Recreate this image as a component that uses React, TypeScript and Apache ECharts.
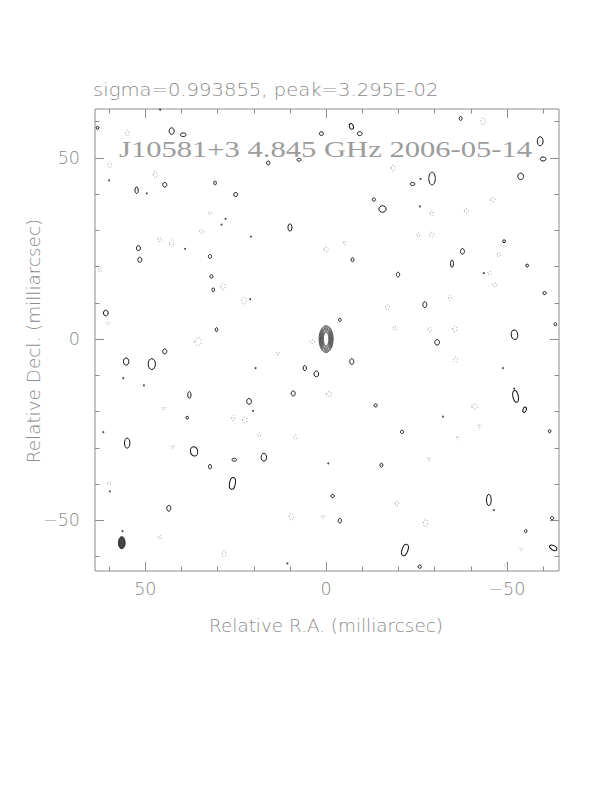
import React, { useEffect, useRef } from "react";
import * as echarts from "echarts";

// Axis extents (milliarcsec); R.A. increases to the left
const raMin = -64.4;
const raMax = 63.9;
const decMin = -64;
const decMax = 63.5;

const majorTicks = [50, 0, -50];
const minorTicks = [60, 40, 30, 20, 10, -10, -20, -30, -40, -60];
const tickLabels = [50, 0, -50];

const titleText = "J10581+3 4.845 GHz 2006-05-14";
const statsText = "sigma=0.993855, peak=3.295E-02";
const xName = "Relative R.A. (milliarcsec)";
const yName = "Relative Decl. (milliarcsec)";

// positive contours: [ra, dec, semiRa, semiDec, rotationDeg]
const positiveContours: number[][] = [
  [63.2, 58.3, 0.4, 0.4, 0],
  [42.7, 57.4, 0.7, 0.9, 0],
  [39.5, 56.4, 0.8, 0.5, 0],
  [1.3, 56.7, 0.55, 0.55, 0],
  [-7.0, 58.7, 0.55, 0.8, 20],
  [-9.3, 56.7, 0.65, 0.55, 0],
  [-37.2, 60.9, 0.4, 0.55, 0],
  [-59.2, 54.6, 0.8, 1.25, 0],
  [-60.0, 49.7, 0.8, 0.55, 0],
  [7.5, 49.5, 0.55, 0.4, 0],
  [16.0, 48.6, 0.45, 0.55, 0],
  [-29.3, 44.3, 0.9, 1.75, 0],
  [-23.9, 42.8, 0.65, 0.4, 0],
  [-53.8, 44.9, 0.8, 0.9, 0],
  [52.4, 41.1, 0.45, 0.9, 0],
  [44.6, 42.6, 0.55, 0.65, 0],
  [30.7, 43.1, 0.35, 0.55, 0],
  [25.0, 39.9, 0.55, 0.55, 0],
  [-13.2, 38.5, 0.45, 0.45, 0],
  [-15.6, 35.9, 1.0, 0.9, 0],
  [10.0, 30.8, 0.55, 1.0, 0],
  [51.9, 25.1, 0.55, 0.7, 0],
  [51.5, 21.9, 0.55, 0.7, 0],
  [32.1, 22.8, 0.45, 0.55, 0],
  [-7.3, 21.9, 0.4, 0.55, 0],
  [-37.7, 24.2, 0.55, 0.75, 0],
  [-49.2, 27.0, 0.4, 0.4, 0],
  [-34.8, 20.8, 0.4, 1.0, 0],
  [-55.6, 20.3, 0.4, 0.4, 0],
  [-19.9, 17.8, 0.45, 0.65, 0],
  [31.7, 17.3, 0.45, 0.45, 0],
  [31.2, 13.6, 0.35, 0.55, 0],
  [-60.4, 12.7, 0.45, 0.45, 0],
  [-27.3, 9.5, 0.55, 0.8, 0],
  [60.9, 7.2, 0.65, 0.8, 0],
  [-3.8, 5.3, 0.35, 0.45, 0],
  [30.3, 2.6, 0.35, 0.55, 0],
  [-63.4, 4.1, 0.35, 0.45, 0],
  [-52.1, 1.2, 0.9, 1.3, 10],
  [-30.7, -0.9, 0.65, 0.75, 0],
  [44.6, -3.4, 0.55, 0.7, 0],
  [55.3, -6.2, 0.75, 1.0, 0],
  [48.2, -6.9, 1.0, 1.5, 0],
  [-7.1, -6.2, 0.55, 0.8, 0],
  [5.9, -8.0, 0.45, 0.7, 0],
  [2.7, -9.6, 0.65, 0.8, 0],
  [37.8, -15.4, 0.45, 0.9, 0],
  [9.1, -15.0, 0.55, 0.7, 0],
  [21.3, -17.2, 0.65, 0.8, 0],
  [-13.7, -18.3, 0.45, 0.45, 0],
  [-52.4, -15.8, 0.75, 1.65, 10],
  [-54.9, -19.5, 0.45, 0.75, -20],
  [38.4, -21.7, 0.35, 0.4, 0],
  [-21.0, -25.6, 0.45, 0.45, 0],
  [-61.8, -25.4, 0.35, 0.45, 0],
  [55.0, -28.7, 0.75, 1.4, 0],
  [36.5, -31.0, 1.0, 1.3, 10],
  [17.2, -32.6, 0.75, 1.1, 0],
  [25.4, -33.3, 0.65, 0.4, 0],
  [32.1, -35.2, 0.4, 0.65, 0],
  [-15.3, -34.8, 0.4, 0.55, 0],
  [25.9, -39.8, 0.8, 1.65, -10],
  [-1.8, -43.3, 0.45, 0.45, 0],
  [43.5, -46.7, 0.55, 0.8, 0],
  [-45.0, -44.4, 0.65, 1.55, 0],
  [-3.8, -50.1, 0.45, 0.65, 0],
  [-62.5, -49.4, 0.45, 0.45, 0],
  [-55.2, -53.0, 0.35, 0.45, 0],
  [-21.8, -58.2, 0.8, 1.65, -20],
  [-62.8, -57.6, 1.1, 0.6, -30],
  [-25.9, -62.8, 0.45, 0.45, 0],
];

// negative (dotted) contours: [ra, dec, semiRa, semiDec]
const negativeContours: number[][] = [
  [55.0, 56.9, 0.5, 0.8],
  [59.8, 48.1, 0.5, 0.8],
  [47.3, 45.4, 0.5, 0.9],
  [-43.4, 60.1, 0.6, 1.0],
  [-18.5, 47.2, 0.5, 0.9],
  [-46.1, 38.5, 0.6, 0.6],
  [-38.8, 35.4, 0.6, 0.6],
  [-29.2, 34.8, 0.4, 0.8],
  [-29.2, 28.8, 0.6, 0.7],
  [-25.5, 28.8, 0.4, 0.6],
  [34.4, 29.7, 0.6, 0.5],
  [32.1, 34.8, 0.4, 0.4],
  [42.7, 26.5, 0.6, 0.9],
  [46.0, 27.5, 0.5, 0.6],
  [0.0, 24.7, 0.6, 0.6],
  [-5.1, 26.5, 0.3, 0.5],
  [-47.8, 23.3, 0.4, 0.6],
  [-45.2, 18.2, 0.5, 0.5],
  [-46.6, 15.0, 0.6, 0.5],
  [28.5, 14.5, 0.6, 0.9],
  [22.7, 10.6, 0.6, 1.0],
  [-34.2, 11.3, 0.4, 0.7],
  [-17.0, 8.8, 0.5, 0.8],
  [-19.0, 3.0, 0.5, 0.5],
  [-28.7, 2.6, 0.5, 0.6],
  [-35.6, 2.8, 0.6, 0.8],
  [35.4, -0.7, 0.9, 1.1],
  [3.8, -0.7, 0.6, 0.5],
  [13.3, -3.9, 0.4, 0.4],
  [-35.8, -5.7, 0.6, 0.7],
  [-0.8, -15.2, 0.7, 0.7],
  [-41.1, -18.6, 0.8, 0.7],
  [-42.3, -24.0, 0.3, 0.5],
  [25.7, -21.8, 0.4, 0.7],
  [22.5, -22.3, 0.6, 0.8],
  [44.8, -19.1, 0.4, 0.4],
  [18.5, -26.4, 0.4, 0.6],
  [8.5, -27.1, 0.4, 0.6],
  [42.3, -29.7, 0.4, 0.4],
  [-36.3, -27.3, 0.3, 0.5],
  [-28.4, -33.1, 0.3, 0.5],
  [59.9, -39.8, 0.5, 0.4],
  [-19.6, -45.3, 0.5, 0.7],
  [9.6, -49.0, 0.6, 1.0],
  [0.8, -49.0, 0.4, 0.4],
  [-27.5, -50.8, 0.6, 1.0],
  [45.9, -54.7, 0.4, 0.6],
  [28.2, -59.3, 0.5, 0.8],
  [-49.8, -62.3, 0.4, 0.6],
  [-54.0, -58.0, 0.4, 0.4],
  [62.5, 19.1, 0.4, 0.6],
  [60.2, 4.4, 0.4, 0.4],
];

// single-pixel noise peaks: [ra, dec]
const noiseDots: number[][] = [
  [45.9, 63.3], [60.0, 43.8], [39.0, 24.9], [28.9, 31.6], [27.8, 33.2],
  [20.8, 28.3], [50.4, -12.8], [56.1, -10.8], [61.6, -25.7], [20.2, -19.8],
  [19.5, -8.0], [-48.9, -8.0], [-32.3, -21.4], [-43.6, 18.2], [-0.6, -34.3],
  [-26.1, 44.2], [-25.9, 36.6], [-46.4, -47.2], [10.7, -61.9], [56.3, -53.0],
  [-52.0, -13.7], [49.6, 40.2], [21.0, 11.0], [59.8, -42.0],
];

// core component: concentric contour levels
const coreCenter = [0, 0];
const coreSemiRa = [1.95, 1.75, 1.55, 1.35, 1.15, 0.95, 0.75];
const coreSemiDec = [3.7, 3.4, 3.1, 2.8, 2.5, 2.15, 1.85];

// restoring beam: [ra, dec, semiRa, semiDec]
const beam = [56.5, -56.2, 0.92, 1.66];

const GRAY = "#8c8c8c";
const TEXT_GRAY = "#8a8a8a";
const SANS = "DejaVu Sans";

function ellipseRenderer(style: any) {
  return (params: any, api: any) => {
    const c = api.coord([api.value(0), api.value(1)]);
    const s = api.size([api.value(2), api.value(3)]);
    const rot = api.value(4) || 0;
    return {
      type: "ellipse",
      x: c[0],
      y: c[1],
      rotation: (rot * Math.PI) / 180,
      shape: { cx: 0, cy: 0, rx: s[0], ry: s[1] },
      style,
    };
  };
}

const fmt = (v: number) => (v < 0 ? "\u2212" + Math.abs(v) : String(v));

function makeXAxis(position: string, values: number[], len: number, labels: boolean) {
  return {
    type: "value",
    position,
    min: raMin,
    max: raMax,
    inverse: true,
    axisLine: { show: false, onZero: false },
    splitLine: { show: false },
    axisTick: {
      show: true,
      inside: true,
      length: len,
      customValues: values,
      lineStyle: { color: GRAY, width: 1 },
    },
    axisLabel: labels
      ? {
          show: true,
          customValues: tickLabels,
          margin: 9,
          color: TEXT_GRAY,
          fontSize: 17.5,
          fontWeight: 200,
          fontFamily: SANS,
          formatter: fmt,
        }
      : { show: false },
  };
}

function makeYAxis(position: string, values: number[], len: number, labels: boolean) {
  return {
    type: "value",
    position,
    min: decMin,
    max: decMax,
    axisLine: { show: false, onZero: false },
    splitLine: { show: false },
    axisTick: {
      show: true,
      inside: true,
      length: len,
      customValues: values,
      lineStyle: { color: GRAY, width: 1 },
    },
    axisLabel: labels
      ? {
          show: true,
          customValues: tickLabels,
          margin: 15,
          color: TEXT_GRAY,
          fontSize: 17.5,
          fontWeight: 200,
          fontFamily: SANS,
          formatter: fmt,
        }
      : { show: false },
  };
}

export default function App() {
  const ref = useRef<HTMLDivElement>(null);
  useEffect(() => {
    if (!ref.current) return;
    const chart = echarts.init(ref.current, null, { renderer: "svg" });
    const pad = (d: number[]) => [d[0], d[1], d[2], d[3], d[4] ?? 0];
    chart.setOption({
      animation: false,
      backgroundColor: "#ffffff",
      grid: {
        left: 95,
        top: 109,
        width: 464,
        height: 462,
        show: true,
        borderColor: GRAY,
        borderWidth: 1,
        backgroundColor: "transparent",
      },
      xAxis: [
        makeXAxis("bottom", majorTicks, 9, true),
        makeXAxis("bottom", minorTicks, 4.5, false),
        makeXAxis("top", majorTicks, 9, false),
        makeXAxis("top", minorTicks, 4.5, false),
      ],
      yAxis: [
        makeYAxis("left", majorTicks, 9, true),
        makeYAxis("left", minorTicks, 4.5, false),
        makeYAxis("right", majorTicks, 9, false),
        makeYAxis("right", minorTicks, 4.5, false),
      ],
      graphic: [
        {
          type: "text",
          x: 93,
          y: 89.5,
          scaleX: 1.12,
          style: {
            text: statsText,
            fill: TEXT_GRAY,
            fontSize: 17.5,
            fontWeight: 200,
            fontFamily: SANS,
            align: "left",
            verticalAlign: "middle",
          },
        },
        {
          type: "text",
          x: 119,
          y: 149.5,
          scaleX: 1.36,
          z: 10,
          style: {
            text: titleText,
            fill: "#9c9c9c",
            fontSize: 22.5,
            fontFamily: "Liberation Serif",
            align: "left",
            verticalAlign: "middle",
          },
        },
        {
          type: "text",
          x: 326,
          y: 626,
          scaleX: 1.05,
          style: {
            text: xName,
            fill: TEXT_GRAY,
            fontSize: 17.5,
            fontWeight: 200,
            fontFamily: SANS,
            align: "center",
            verticalAlign: "middle",
          },
        },
        {
          type: "text",
          x: 33.5,
          y: 341,
          rotation: Math.PI / 2,
          scaleX: 1.05,
          style: {
            text: yName,
            fill: TEXT_GRAY,
            fontSize: 17.5,
            fontWeight: 200,
            fontFamily: SANS,
            align: "center",
            verticalAlign: "middle",
          },
        },
      ],
      series: [
        {
          type: "custom",
          name: "negative",
          coordinateSystem: "cartesian2d",
          xAxisIndex: 0,
          yAxisIndex: 0,
          clip: true,
          renderItem: ellipseRenderer({
            fill: "none",
            stroke: "#9a9a9a",
            lineWidth: 1,
            lineDash: [1, 2],
          }),
          data: negativeContours.map(pad),
        },
        {
          type: "custom",
          name: "positive",
          coordinateSystem: "cartesian2d",
          xAxisIndex: 0,
          yAxisIndex: 0,
          clip: true,
          renderItem: ellipseRenderer({ fill: "none", stroke: "#111", lineWidth: 1 }),
          data: positiveContours.map(pad),
        },
        {
          type: "custom",
          name: "core",
          coordinateSystem: "cartesian2d",
          xAxisIndex: 0,
          yAxisIndex: 0,
          clip: true,
          renderItem: ellipseRenderer({ fill: "none", stroke: "#333", lineWidth: 0.8 }),
          data: coreSemiRa.map((rx, i) => [coreCenter[0], coreCenter[1], rx, coreSemiDec[i], 0]),
        },
        {
          type: "custom",
          name: "beam",
          coordinateSystem: "cartesian2d",
          xAxisIndex: 0,
          yAxisIndex: 0,
          clip: true,
          renderItem: ellipseRenderer({ fill: "#444", stroke: "#222", lineWidth: 1 }),
          data: [pad(beam)],
        },
        {
          type: "scatter",
          name: "dots",
          xAxisIndex: 0,
          yAxisIndex: 0,
          symbol: "circle",
          symbolSize: 2,
          itemStyle: { color: "#222" },
          data: noiseDots,
        },
      ],
    });
    return () => chart.dispose();
  }, []);
  return (
    <div
      ref={ref}
      style={{ position: "absolute", left: 0, top: 0, width: 612, height: 792 }}
    />
  );
}
